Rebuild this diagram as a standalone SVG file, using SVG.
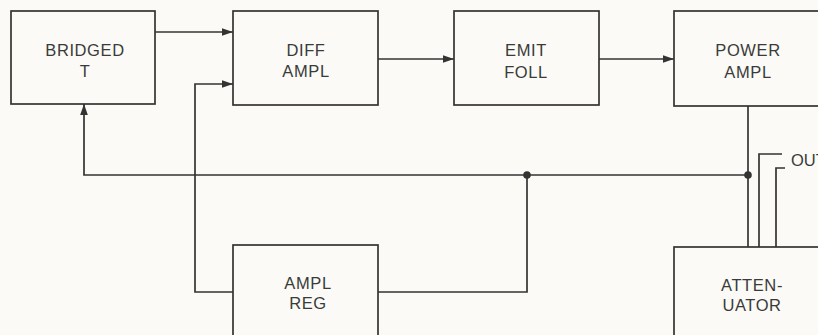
<svg xmlns="http://www.w3.org/2000/svg" width="818" height="335" viewBox="0 0 818 335">
<defs>
<marker id="arr" viewBox="0 0 10 10" refX="10" refY="5" markerWidth="11" markerHeight="11" markerUnits="userSpaceOnUse" orient="auto">
<path d="M0,1.5 L10,5 L0,8.5 Z" fill="#333"/>
</marker>
<style>
.box{fill:none;stroke:#333;stroke-width:1.7}
.ln{fill:none;stroke:#333;stroke-width:1.7}
.t{font-family:"Liberation Sans",Arial,sans-serif;font-size:16.5px;fill:#3a3a3a;text-anchor:middle;letter-spacing:0.6px}
.dot{fill:#333}
</style>
</defs>
<rect width="818" height="335" fill="#fbfaf6"/>
<g id="bridged-t"><rect class="box" x="11" y="11" width="144" height="93"/><text class="t" x="85" y="56">BRIDGED</text><text class="t" x="85" y="77">T</text></g>
<g id="diff-ampl"><rect class="box" x="233" y="11" width="145" height="94"/><text class="t" x="306" y="56">DIFF</text><text class="t" x="306" y="77">AMPL</text></g>
<g id="emit-foll"><rect class="box" x="454" y="11" width="145" height="94"/><text class="t" x="526" y="56">EMIT</text><text class="t" x="526" y="78">FOLL</text></g>
<g id="power-ampl"><rect class="box" x="674" y="11" width="160" height="95"/><text class="t" x="748" y="56">POWER</text><text class="t" x="748" y="78">AMPL</text></g>
<g id="ampl-reg"><rect class="box" x="233" y="245" width="145" height="100"/><text class="t" x="308" y="289">AMPL</text><text class="t" x="308" y="309">REG</text></g>
<g id="attenuator"><rect class="box" x="674" y="247" width="160" height="100"/><text class="t" x="752" y="291">ATTEN-</text><text class="t" x="752" y="311">UATOR</text></g>
<g id="connectors">
<path class="ln" d="M155,32 H233" marker-end="url(#arr)"/>
<path class="ln" d="M378,59 H454" marker-end="url(#arr)"/>
<path class="ln" d="M599,59 H674" marker-end="url(#arr)"/>
<path class="ln" d="M233,292 H195 V84 H233" marker-end="url(#arr)"/>
<path class="ln" d="M378,292 H527 V175"/>
<path class="ln" d="M748,106 V247"/>
<path class="ln" d="M748,175 H84 V104" marker-end="url(#arr)"/>
<path class="ln" d="M759,247 V154 H782"/>
<path class="ln" d="M776,247 V168 H785"/>
<circle class="dot" cx="527" cy="175" r="3.8"/>
<circle class="dot" cx="748" cy="175" r="3.8"/>
</g>
<text class="t" x="791" y="166" style="text-anchor:start;letter-spacing:0">OUT</text>
</svg>
